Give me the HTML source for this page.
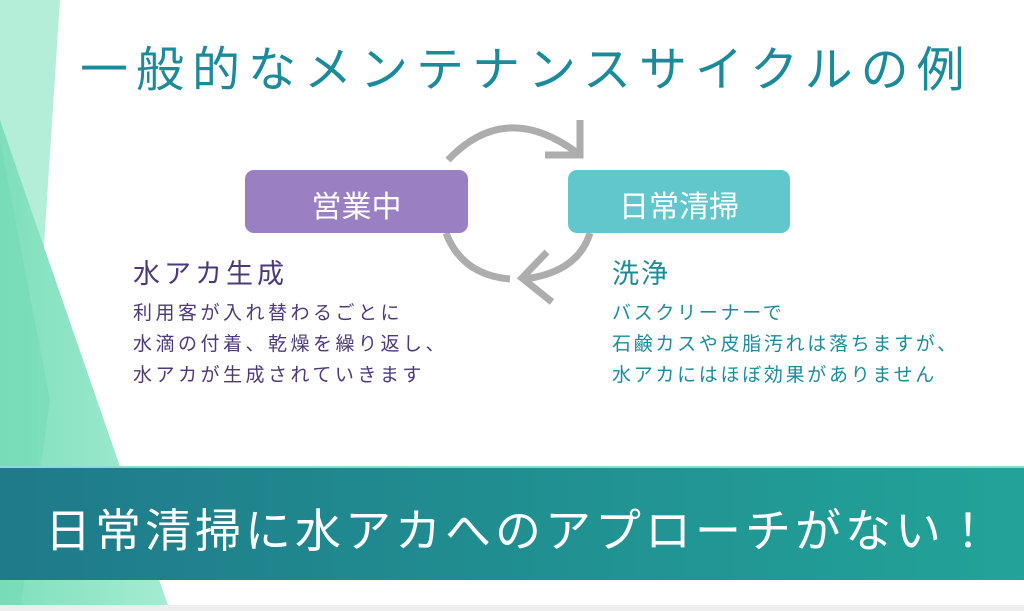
<!DOCTYPE html>
<html><head><meta charset="utf-8"><style>
body{margin:0;width:1024px;height:611px;overflow:hidden;background:#fff;position:relative;font-family:"Liberation Sans","Noto Sans CJK JP",sans-serif}
.a{position:absolute;white-space:nowrap}
</style></head><body>
<svg class="a" style="left:0;top:0" width="1024" height="611">
<defs><linearGradient id="g" x1="0" x2="1"><stop offset="0" stop-color="#1f7a8a"/><stop offset="1" stop-color="#22a398"/></linearGradient>
<linearGradient id="lg" x1="0" x2="1"><stop offset="0" stop-color="#7fdfbb"/><stop offset="1" stop-color="#a5ecd3"/></linearGradient></defs>
<polygon points="0,0 60,0 20,611 0,611" fill="#b5eed8"/>
<polygon points="0,120 170,611 0,611" fill="url(#lg)"/>
<polygon points="0,140 50,400 20,611 0,611" fill="#6fdab3" opacity="0.5"/>
<rect x="0" y="467" width="1024" height="113" fill="url(#g)"/>
<rect x="0" y="466" width="1024" height="2" fill="#8fd8d4"/>
<rect x="0" y="605" width="1024" height="6" fill="#eee"/>
<g fill="none" stroke="#adadad" stroke-width="7">
<path d="M448,160 Q505,100 576,152"/>
<polyline points="580,120 580,155 545,155"/>
<path d="M446,233 Q462,275 510,279"/>
<path d="M590,233 Q578,272 525,279"/>
<polyline points="547,252 522,278 552,302"/>
</g>
<rect x="245" y="170" width="223" height="63" rx="9" fill="#9a80c2"/>
<rect x="568" y="170" width="222" height="63" rx="9" fill="#62c7cc"/>
</svg>
<div class="a" style="left:80px;top:30px;font-size:48px;letter-spacing:8px;color:#1b8a9a">一般的なメンテナンスサイクルの例</div>
<div class="a" style="left:245px;top:182px;width:223px;text-align:center;font-size:30px;color:#fff">営業中</div>
<div class="a" style="left:568px;top:182px;width:222px;text-align:center;font-size:30px;color:#fff">日常清掃</div>
<div class="a" style="left:133px;top:252px;font-size:27px;letter-spacing:4px;color:#4e3a7a">水アカ生成</div>
<div class="a" style="left:133px;top:298px;font-size:19px;letter-spacing:3.5px;line-height:31px;color:#4e3a7a">利用客が入れ替わるごとに<br>水滴の付着、乾燥を繰り返し、<br>水アカが生成されていきます</div>
<div class="a" style="left:612px;top:252px;font-size:27px;letter-spacing:2px;color:#1c8c9a">洗浄</div>
<div class="a" style="left:612px;top:298px;font-size:19px;letter-spacing:2.7px;line-height:31px;color:#1c8c9a">バスクリーナーで<br>石鹸カスや皮脂汚れは落ちますが、<br>水アカにはほぼ効果がありません</div>
<div class="a" style="left:45px;top:495px;font-size:46px;letter-spacing:4px;color:#fff">日常清掃に水アカへのアプローチがない！</div>
</body></html>
